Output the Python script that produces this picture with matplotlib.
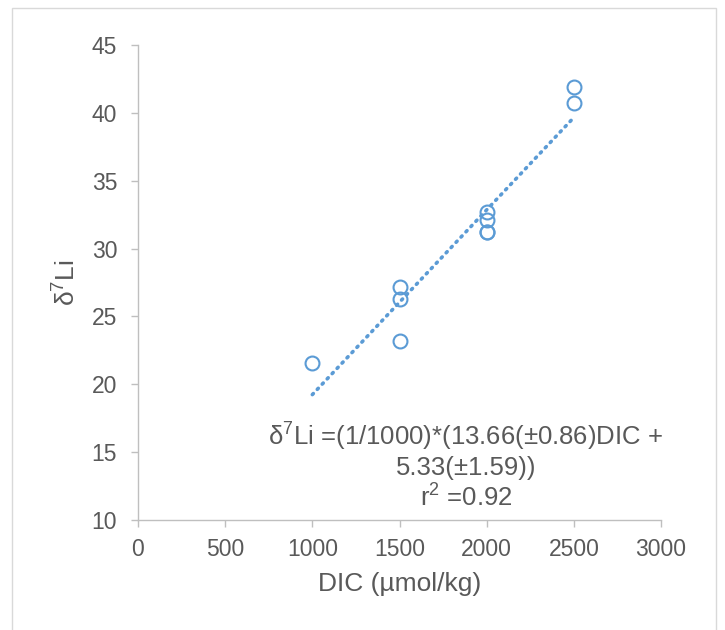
import numpy as np
import matplotlib
matplotlib.use('Agg')
import matplotlib.pyplot as plt
from matplotlib.patches import Rectangle

plt.rcParams['font.family'] = ['Liberation Sans', 'DejaVu Sans']
plt.rcParams['mathtext.fontset'] = 'custom'
plt.rcParams['mathtext.rm'] = 'Liberation Sans'

# DIC (umol/kg) and d7Li values
dic = [1000, 1500, 1500, 1500, 2000, 2000, 2000, 2000, 2500, 2500]
d7li = [21.6, 27.2, 26.3, 23.2, 32.7, 32.1, 31.2, 31.2, 41.9, 40.7]

xticks = [0, 500, 1000, 1500, 2000, 2500, 3000]
yticks = [10, 15, 20, 25, 30, 35, 40, 45]

blue = '#5B9BD5'
gray_txt = '#595959'
gray_ax = '#BFBFBF'

fig = plt.figure(figsize=(7.25, 6.3), dpi=100)
fig.patches.append(Rectangle((12 / 725, -0.05), (716 - 12) / 725, 1.05 - 8 / 630,
                             transform=fig.transFigure, fill=False,
                             edgecolor='#D9D9D9', lw=1))
ax = fig.add_axes([138 / 725, 1 - 520 / 630, (661 - 138) / 725, (520 - 45) / 630])

# linear trendline
slope, icpt = np.polyfit(dic, d7li, 1)
xt = np.array([min(dic), max(dic)])
ax.plot(xt, slope * xt + icpt, color=blue, lw=2.6, linestyle=(0, (0.4, 1.6)),
        dash_capstyle='round', zorder=2)

ax.plot(dic, d7li, 'o', mfc='none', mec=blue, mew=1.5, ms=10, zorder=3)

ax.set_xlim(0, 3000)
ax.set_ylim(10, 45)
ax.set_xticks(xticks)
ax.set_yticks(yticks)
for s in ['top', 'right']:
    ax.spines[s].set_visible(False)
for s in ['left', 'bottom']:
    ax.spines[s].set_color(gray_ax)
    ax.spines[s].set_linewidth(1)
ax.tick_params(axis='both', direction='out', length=5, width=1, color=gray_ax,
               labelcolor=gray_txt, labelsize=16.5)
ax.tick_params(axis='x', pad=8)
ax.tick_params(axis='y', pad=10)

d7 = r'$\mathregular{\delta^7}$Li'
ax.set_xlabel('DIC (µmol/kg)', fontsize=19, color=gray_txt, labelpad=8)
ax.set_ylabel(d7, fontsize=19, color=gray_txt, labelpad=8)

fig.text(466 / 725, 1 - 421 / 630,
         d7 + ' =(1/1000)*(13.66(±0.86)DIC +\n5.33(±1.59))\nr' + r'$\mathregular{^2}$' + ' =0.92',
         ha='center', va='top', multialignment='center', fontsize=18.5,
         color=gray_txt, linespacing=1.17)

fig.savefig('out.png', dpi=100)
